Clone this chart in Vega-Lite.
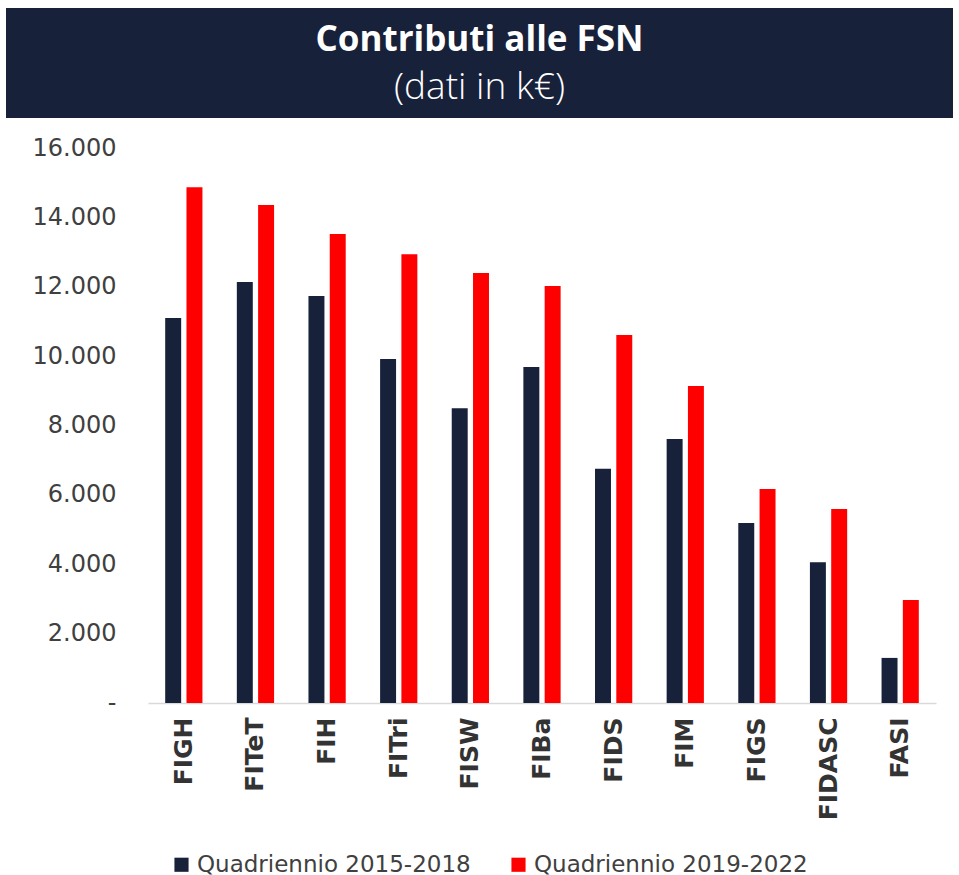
{
  "$schema": "https://vega.github.io/schema/vega-lite/v6.json",
  "padding": {"left": 6, "top": 8, "right": 6, "bottom": 4},
  "background": "white",
  "spacing": 18,
  "config": {"view": {"stroke": null}, "font": "DejaVu Sans"},
  "datasets": {
    "contributi": [
      {"fsn": "FIGH", "periodo": "Quadriennio 2015-2018", "valore": 11100},
      {"fsn": "FIGH", "periodo": "Quadriennio 2019-2022", "valore": 14870},
      {"fsn": "FITeT", "periodo": "Quadriennio 2015-2018", "valore": 12140},
      {"fsn": "FITeT", "periodo": "Quadriennio 2019-2022", "valore": 14360},
      {"fsn": "FIH", "periodo": "Quadriennio 2015-2018", "valore": 11730},
      {"fsn": "FIH", "periodo": "Quadriennio 2019-2022", "valore": 13520},
      {"fsn": "FITri", "periodo": "Quadriennio 2015-2018", "valore": 9920},
      {"fsn": "FITri", "periodo": "Quadriennio 2019-2022", "valore": 12940},
      {"fsn": "FISW", "periodo": "Quadriennio 2015-2018", "valore": 8500},
      {"fsn": "FISW", "periodo": "Quadriennio 2019-2022", "valore": 12400},
      {"fsn": "FIBa", "periodo": "Quadriennio 2015-2018", "valore": 9690},
      {"fsn": "FIBa", "periodo": "Quadriennio 2019-2022", "valore": 12020},
      {"fsn": "FIDS", "periodo": "Quadriennio 2015-2018", "valore": 6750},
      {"fsn": "FIDS", "periodo": "Quadriennio 2019-2022", "valore": 10610},
      {"fsn": "FIM", "periodo": "Quadriennio 2015-2018", "valore": 7610},
      {"fsn": "FIM", "periodo": "Quadriennio 2019-2022", "valore": 9140},
      {"fsn": "FIGS", "periodo": "Quadriennio 2015-2018", "valore": 5190},
      {"fsn": "FIGS", "periodo": "Quadriennio 2019-2022", "valore": 6170},
      {"fsn": "FIDASC", "periodo": "Quadriennio 2015-2018", "valore": 4060},
      {"fsn": "FIDASC", "periodo": "Quadriennio 2019-2022", "valore": 5590},
      {"fsn": "FASI", "periodo": "Quadriennio 2015-2018", "valore": 1300},
      {"fsn": "FASI", "periodo": "Quadriennio 2019-2022", "valore": 2970}
    ]
  },
  "vconcat": [
    {
      "width": 947,
      "height": 110,
      "view": {"fill": "#18213a", "stroke": null},
      "data": {"values": [
        {"riga": 1, "testo": "Contributi alle FSN"},
        {"riga": 2, "testo": "(dati in k€)"}
      ]},
      "layer": [
        {
          "transform": [{"filter": "datum.riga == 1"}],
          "mark": {"type": "text", "color": "white", "fontSize": 35, "fontWeight": "bold", "font": "Open Sans", "baseline": "middle", "dy": 2},
          "encoding": {
            "y": {"field": "riga", "type": "ordinal", "scale": {"type": "point", "domain": [1, 2], "padding": 0.62}, "axis": null},
            "text": {"field": "testo"}
          }
        },
        {
          "transform": [{"filter": "datum.riga == 2"}],
          "mark": {"type": "text", "color": "white", "fontSize": 37, "fontWeight": 300, "font": "Open Sans", "baseline": "middle"},
          "encoding": {
            "y": {"field": "riga", "type": "ordinal", "scale": {"type": "point", "domain": [1, 2], "padding": 0.62}, "axis": null},
            "text": {"field": "testo"}
          }
        }
      ]
    },
    {
      "spacing": 0,
      "resolve": {"scale": {"color": "independent", "y": "independent"}, "legend": {"color": "independent"}},
      "hconcat": [
        {
          "width": 142,
          "height": 555,
          "data": {"name": "contributi"},
          "mark": {"type": "tick", "opacity": 0},
          "encoding": {
            "y": {
              "field": "valore", "type": "quantitative",
              "scale": {"domain": [0, 16000], "nice": false},
              "axis": {
                "orient": "right", "title": null,
                "values": [0, 2000, 4000, 6000, 8000, 10000, 12000, 14000, 16000],
                "labelExpr": "datum.value == 0 ? '-' : replace(format(datum.value, ','), ',', '.')",
                "labelFontSize": 24, "labelColor": "#404040", "labelFont": "DejaVu Sans",
                "labelAlign": "right", "labelPadding": -32,
                "grid": false, "ticks": false, "domain": false
              }
            }
          }
        },
        {
          "width": 788,
          "height": 555,
          "data": {"name": "contributi"},
          "mark": {"type": "bar"},
          "encoding": {
            "x": {
              "field": "fsn", "type": "nominal", "sort": null,
              "scale": {"paddingInner": 0.48, "paddingOuter": 0.24},
              "axis": {
                "title": null, "labelAngle": -90, "labelAlign": "right", "labelBaseline": "middle",
                "labelFontSize": 25, "labelFontWeight": "bold", "labelColor": "#333333", "labelFont": "DejaVu Sans",
                "ticks": false, "labelPadding": 14, "domainColor": "#d9d9d9", "domainWidth": 1.5
              }
            },
            "xOffset": {"field": "periodo", "type": "nominal", "scale": {"paddingInner": 0.25, "paddingOuter": 0}},
            "y": {
              "field": "valore", "type": "quantitative",
              "scale": {"domain": [0, 16000], "nice": false},
              "axis": null
            },
            "color": {
              "field": "periodo", "type": "nominal",
              "scale": {"domain": ["Quadriennio 2015-2018", "Quadriennio 2019-2022"], "range": ["#18213a", "#ff0000"]},
              "legend": {
                "title": null, "orient": "bottom", "direction": "horizontal",
                "symbolType": "square", "symbolSize": 200, "symbolStrokeWidth": 0,
                "labelFontSize": 23, "labelColor": "#404040", "labelFont": "DejaVu Sans", "labelLimit": 400,
                "columnPadding": 36, "offset": 11, "labelOffset": 4, "padding": 22
              }
            }
          }
        }
      ]
    }
  ]
}
